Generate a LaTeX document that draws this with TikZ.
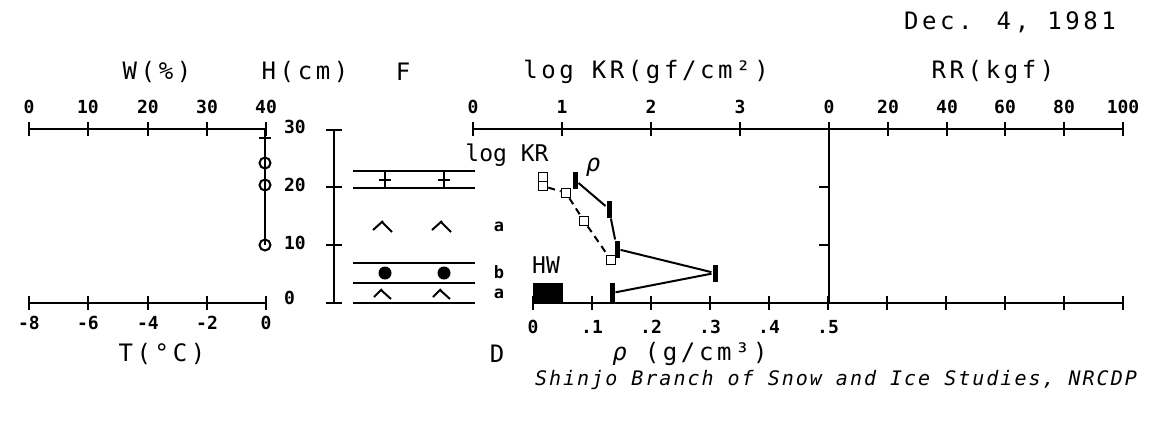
\documentclass[tikz,border=0pt]{standalone}
\usepackage{fontspec}
\setmainfont{DejaVu Sans Mono}
\newfontfamily\headfont[LetterSpace=15]{DejaVu Sans Mono}
\newfontfamily\capfont[LetterSpace=10]{DejaVu Sans Mono}

\tikzset{
  heading/.style  = {font=\headfont\fontsize{24}{24}\selectfont, inner sep=0pt},
  keylab/.style   = {font=\fontsize{23}{23}\selectfont, inner sep=0pt},
  capline/.style  = {font=\capfont\itshape\fontsize{20}{20}\selectfont, inner sep=0pt},
  ticknum/.style  = {font=\bfseries\fontsize{18}{18}\selectfont, inner sep=0pt},
  layerlab/.style = {font=\bfseries\fontsize{17}{17}\selectfont, inner sep=0pt},
  krmark/.style   = {draw, line width=1.6pt, minimum size=9pt, inner sep=0pt},
  rhobar/.style   = {fill, minimum width=5pt, minimum height=17pt, inner sep=0pt},
  krline/.style   = {line width=2pt, dash pattern=on 7pt off 5pt},
}

\begin{document}
\begin{tikzpicture}[x=1pt, y=-1pt, line width=2pt]

	\useasboundingbox (0,0) rectangle (1163,424);

	%%% TITULOS %%%

	\node[heading] (date) at (1010,22) {Dec. 4, 1981};
	\node[heading] (wlab) at (157,72) {W(\%)};
	\node[heading] (hlab) at (305,72) {H(cm)};
	\node[heading] (flab) at (403,72) {F};
	\node[heading] (krlab) at (646,72) {log KR(gf/cm²)};
	\node[heading] (rrlab) at (993,72) {RR(kgf)};

	\node[heading] (tlab) at (162,354) {T(°C)};
	\node[heading] (dlab) at (497,354) {D};
	\node[heading] (rholab) at (690,354) {{\itshape ρ} (g/cm³)};

	\node[capline] (inst) at (836,380) {Shinjo Branch of Snow and Ice Studies, NRCDP};

	%%% W / T %%%

	\draw (29,129) -- (266,129);
	\foreach \x/\v [count=\i] in {29/0, 88/10, 148/20, 207/30, 266/40} {
		\draw (\x,122) -- (\x,136);
		\node[ticknum] (w\i) at (\x,107) {\v};
	}

	\draw (29,303) -- (266,303);
	\foreach \x/\v [count=\i] in {29/-8, 88/-6, 148/-4, 207/-2, 266/0} {
		\draw (\x,296) -- (\x,310);
		\node[ticknum] (t\i) at (\x,323) {\v};
	}

	\foreach \y/\v [count=\i] in {127/30, 185/20, 243/10, 298/0}
		\node[ticknum, anchor=west] (h\i) at (283,\y) {\v};

	\draw (265,129) -- (265,245);
	\draw (259,138) -- (271,138);
	\foreach \y in {163, 185, 245}
		\draw (265,\y) circle (5.5pt);

	%%% F %%%

	\draw (334,130) -- (334,303);
	\foreach \y in {130, 187, 245, 303}
		\draw (326,\y) -- (342,\y);

	\foreach \y in {171, 188, 263, 283, 303}
		\draw (353,\y) -- (475,\y);

	\foreach \x in {385, 444} {
		\draw (\x,172) -- (\x,187);
		\draw (\x-6,180) -- (\x+6,180);
		\draw (\x-12,230) -- (\x-2,221);
		\draw (\x-3,222) -- (\x+7,232);
		\fill (\x,273) circle (6.5pt);
		\draw (\x-11,297) -- (\x-3,289);
		\draw (\x-4,290) -- (\x+6,299);
	}

	\node[layerlab] (la1) at (499,227) {a};
	\node[layerlab] (lb) at (499,272) {b};
	\node[layerlab] (la2) at (499,294) {a};

	%%% KR / RR / RHO %%%

	\draw (473,129) -- (1123,129);
	\foreach \x/\v [count=\i] in {473/0, 562/1, 651/2, 740/3} {
		\draw (\x,122) -- (\x,136);
		\node[ticknum] (k\i) at (\x,107) {\v};
	}
	\foreach \x/\v [count=\i] in {829/0, 888/20, 947/40, 1005/60, 1064/80, 1123/100} {
		\draw (\x,122) -- (\x,136);
		\node[ticknum] (r\i) at (\x,107) {\v};
	}

	\draw (829,129) -- (829,303);
	\foreach \y in {187, 245}
		\draw (819,\y) -- (829,\y);

	\draw (533,303) -- (1123,303);
	\foreach \i in {0,...,10}
		\draw (533+59*\i,296) -- (533+59*\i,310);
	\foreach \v [count=\i from 0] in {0, .1, .2, .3, .4, .5}
		\node[ticknum] (d\i) at (533+59*\i,327) {\v};

	\node[keylab] (krkey) at (507,155) {log KR};
	\node[keylab] (hw) at (546,265) {HW};
	\fill (533,283) rectangle (563,303);

	\node[krmark] (kra) at (543,177) {};
	\node[krmark] (krb) at (543,186) {};
	\node[krmark] (kr1) at (566,193) {};
	\node[krmark] (kr2) at (584,221) {};
	\node[krmark] (kr3) at (611,260) {};
	\draw[krline] (krb) -- (kr1) -- (kr2) -- (kr3);

	\node[rhobar] (rho1) at (575,180) {};
	\node[rhobar] (rho2) at (609,209) {};
	\node[rhobar] (rho3) at (617,249) {};
	\node[rhobar] (rho4) at (715,273) {};
	\node[rhobar, minimum height=20pt] (rho5) at (612,293) {};
	\draw (rho1) -- (rho2) -- (rho3) -- (rho4) -- (rho5);

	\node[keylab, font=\itshape\fontsize{24}{24}\selectfont] (rhokey) at (593,167) {ρ};

\end{tikzpicture}
\end{document}
